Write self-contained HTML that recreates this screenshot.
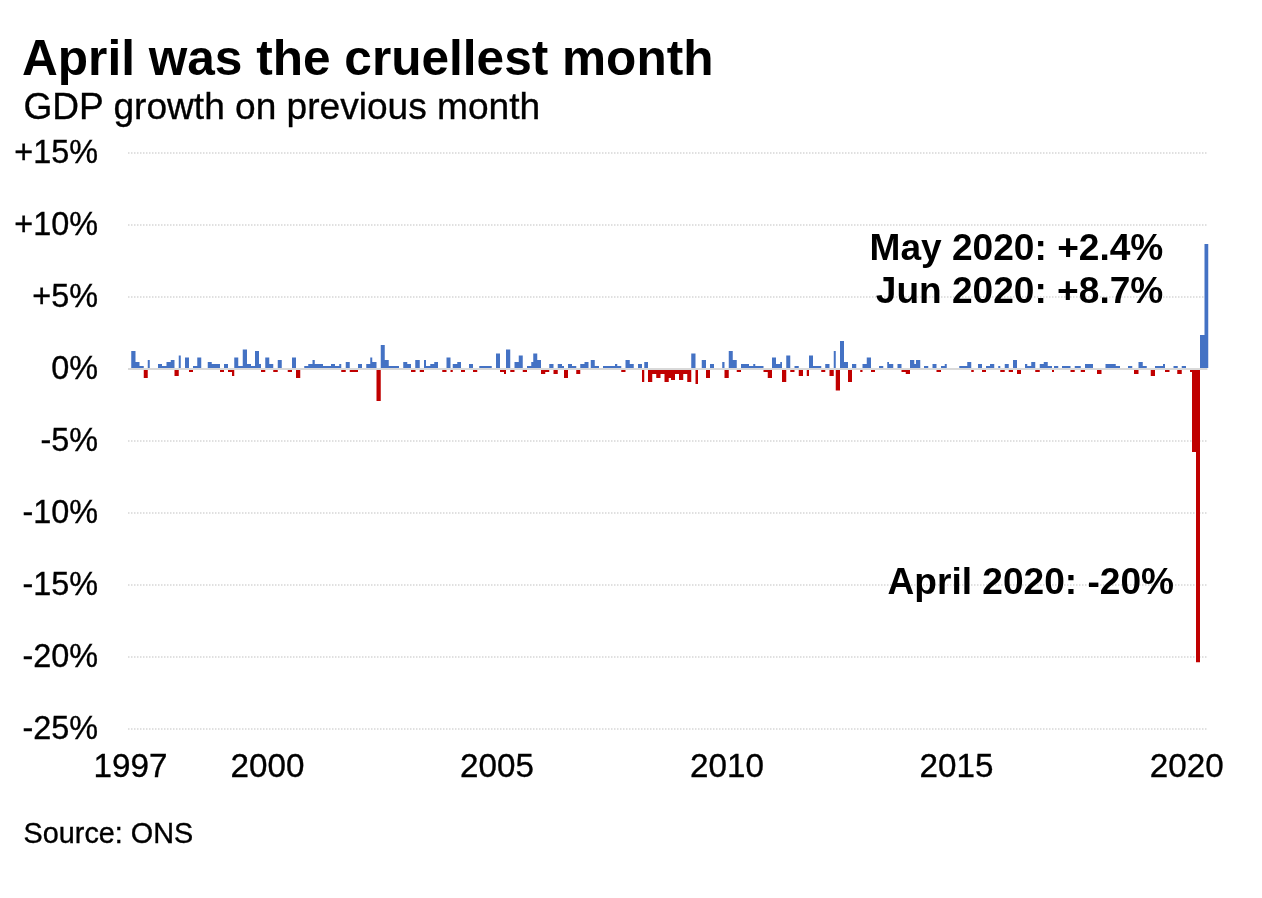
<!DOCTYPE html>
<html lang="en"><head><meta charset="utf-8"><title>April was the cruellest month</title>
<style>
html,body{margin:0;padding:0;background:#fff}
body{width:1262px;height:898px;overflow:hidden;font-family:"Liberation Sans",Arial,Helvetica,sans-serif}
svg{display:block;filter:blur(.45px)}
text{font-family:"Liberation Sans",Arial,Helvetica,sans-serif;fill:#000}
.s,.y,.x,.src{stroke:#000;stroke-width:.35px}
.t{font-weight:bold;font-size:49.58px}
.s{font-size:37.1px}
.y{font-size:32.4px;text-anchor:end}
.x{font-size:33.2px;text-anchor:middle}
.a{font-weight:bold;font-size:37.1px;text-anchor:end}
.src{font-size:28.8px}
.g{stroke:#d6d6d6;stroke-width:1.6;stroke-dasharray:1.5 1.5;fill:none}
.b{fill:#4472C4}.r{fill:#C00000}
</style></head><body>
<svg width="1262" height="898" viewBox="0 0 1262 898">
<rect width="1262" height="898" fill="#fff"/>

<g class="g">
<line x1="128" y1="153" x2="1208" y2="153"/>
<line x1="128" y1="225" x2="1208" y2="225"/>
<line x1="128" y1="297" x2="1208" y2="297"/>
<line x1="128" y1="441" x2="1208" y2="441"/>
<line x1="128" y1="513" x2="1208" y2="513"/>
<line x1="128" y1="585" x2="1208" y2="585"/>
<line x1="128" y1="657" x2="1208" y2="657"/>
<line x1="128" y1="729" x2="1208" y2="729"/>
</g>
<rect x="128" y="368" width="1079.4" height="2" fill="#d9d9d9"/>
<path class="b" d="M131.25 368V351H135.5V362H139.5V366H143.75V368ZM147.75 368V360H149.75V368ZM158 368V364H162V366H166.5V362H170.75V360H174.5V368ZM178.75 368V355.5H180.75V368ZM185 368V357.5H189V368ZM193 368V366H197.25V357.5H201.25V368ZM207.75 368V362H211.75V364H220V368ZM224 368V364H228V368ZM234.25 368V357.5H238.25V366H242.75V349.5H247V364H251V366H255V351H259V364H261V368ZM265.25 368V357.5H269.25V364H273.25V368ZM277.75 368V360H281.75V368ZM292 368V357.5H296V368ZM304.25 368V366H308.25V364H312.5V360H314.75V364H323V366H331V364H335V366H339.25V364H341.25V368ZM345.75 368V362H349.75V368ZM358 368V364H362V368ZM366.25 368V364H370.25V357.5H372.25V362H376.5V368ZM380.75 368V345H384.75V360H388.75V366H399V368ZM403.25 368V362H407.25V364H411V368ZM415.25 368V360H419.75V368ZM424 368V360H426V366H430.25V364H434.25V362H438V368ZM446.5 368V357.5H450.5V368ZM452.75 368V364H457.25V362H461V368ZM469 368V364H473V368ZM479.25 368V366H491.75V368ZM496 368V353.5H500V368ZM506 368V349.5H510.25V368ZM514.5 368V362H518.75V355.5H522.75V368ZM527 368V366H531.25V362H533.25V353.5H537.25V360H541V368ZM549.25 368V364H553.5V368ZM557.75 368V364H562V366H564V368ZM568 368V364H572V366H576.25V368ZM580.25 368V364H584.5V362H588.5V368ZM590.75 368V360H594.75V366H599V368ZM603 368V366H615V364H617.25V366H621.25V368ZM625.5 368V360H629.75V364H633.75V368ZM638 368V364H642V368ZM644.25 368V362H648V368ZM691.25 368V353.5H695.5V368ZM701.75 368V360H706V368ZM710 368V364H714V368ZM722.25 368V362H724.5V368ZM728.75 368V351H732.75V360H736.75V368ZM741 368V364H749V366H753.25V364H755.25V366H763.5V368ZM772 368V357.5H776V364H780.25V362H782V368ZM786.25 368V355.5H790.25V368ZM794.5 368V366H798.75V368ZM809 368V355.5H813V366H821.25V368ZM825.25 368V364H829.5V368ZM833.75 368V351H835.75V368ZM840 368V341H844V362H848V368ZM852 368V364H856.25V368ZM862.5 368V364H866.75V357.5H871V368ZM879 368V366H883.25V368ZM887.25 368V362H889V364H893.25V368ZM897.5 368V364H901.5V368ZM910 368V360H914.25V364H916V360H920.25V368ZM924 368V366H928.25V368ZM932.5 368V364H936.5V368ZM941 368V366H944.75V364H946.75V368ZM959.25 368V366H967.25V362H971.25V368ZM978 368V364H982V368ZM986 368V366H990V364H994.25V368ZM998.25 368V366H1000.25V368ZM1004.75 368V364H1008.75V368ZM1013 368V360H1017V368ZM1025 368V364H1027.25V366H1031.25V362H1035.25V368ZM1039.75 368V364H1043.75V362H1047.75V366H1052V368ZM1054 368V366H1058.25V368ZM1062 368V366H1070.5V368ZM1074.75 368V366H1080.75V368ZM1085 368V364H1093V368ZM1105.5 368V364H1115.75V366H1120V368ZM1128 368V366H1132.25V368ZM1138.5 368V362H1142.75V366H1146.75V368ZM1155 368V366H1163V364H1165V368ZM1173.5 368V366H1177.75V368ZM1181.75 368V366H1186V368ZM1200 368V335H1204.5V244H1208.25V368Z"/>
<path class="r" d="M143.75 370V378H147.75V370ZM174.5 370V376H178.75V370ZM189 370V372H193V370ZM220 370V372H224V370ZM228 370V372H232V376H234.25V370ZM261 370V372H265.25V370ZM273.25 370V372H277.75V370ZM287.75 370V372H292V370ZM296 370V378H300.25V370ZM341.25 370V372H345.75V370ZM349.75 370V372H358V370ZM376.5 370V401H380.75V370ZM411 370V372H415.5V370ZM419.75 370V372H424V370ZM442.25 370V372H446.5V370ZM450.5 370V372H452.75V370ZM461 370V372H465V370ZM473 370V372H477.25V370ZM500 370V372H504V374H506V370ZM510.25 370V372H514.5V370ZM522.75 370V372H527V370ZM541 370V374H545.25V372H549.25V370ZM553.5 370V374H557.75V370ZM564 370V378H568V370ZM576.25 370V374H580.25V370ZM621.25 370V372H625.5V370ZM642 370V382H644.25V370ZM648 370V382H652.25V374H656.25V378H660.5V374H664.5V382H668.75V378H671V380H675V374H679V380H683.25V374H687.25V382H691.25V370ZM695.5 370V384H698V370ZM706 370V378H710V370ZM724.5 370V378H728.75V370ZM736.75 370V372H741V370ZM763.5 370V372H767.75V378H772V370ZM782 370V382H786.25V370ZM790.25 370V372H794.5V370ZM798.75 370V376H803V370ZM806.75 370V376H809V370ZM821.25 370V372H825.25V370ZM829.5 370V376H833.75V370ZM835.75 370V390.5H840V370ZM848 370V382H852V370ZM860.25 370V372H862.5V370ZM871 370V372H875V370ZM901.5 370V372H905.75V374H910V370ZM936.5 370V372H941V370ZM971.25 370V372H973.75V370ZM982 370V372H986V370ZM1000.25 370V372H1004.75V370ZM1008.75 370V372H1013V370ZM1017 370V374H1021V370ZM1035.25 370V372H1039.75V370ZM1052 370V372H1054V370ZM1070.5 370V372H1074.75V370ZM1080.75 370V372H1085V370ZM1097 370V374H1101.5V370ZM1134 370V374H1138.5V370ZM1150.75 370V376H1155V370ZM1165 370V372H1169.5V370ZM1177.25 370V374H1181.75V370ZM1190 370V372H1192V452H1196V662.2H1200V370Z"/>
<text class="t" x="22" y="75">April was the cruellest month</text>
<text class="s" x="23.5" y="119">GDP growth on previous month</text>
<text class="y" x="98" y="162.7">+15%</text>
<text class="y" x="98" y="234.7">+10%</text>
<text class="y" x="98" y="306.7">+5%</text>
<text class="y" x="98" y="378.7">0%</text>
<text class="y" x="98" y="450.7">-5%</text>
<text class="y" x="98" y="522.7">-10%</text>
<text class="y" x="98" y="594.7">-15%</text>
<text class="y" x="98" y="666.7">-20%</text>
<text class="y" x="98" y="738.7">-25%</text>
<text class="x" x="130.5" y="777.3">1997</text>
<text class="x" x="267.5" y="777.3">2000</text>
<text class="x" x="497" y="777.3">2005</text>
<text class="x" x="727" y="777.3">2010</text>
<text class="x" x="956.5" y="777.3">2015</text>
<text class="x" x="1186.7" y="777.3">2020</text>
<text class="a" x="1163.3" y="259.6">May 2020: +2.4%</text>
<text class="a" x="1163.3" y="303">Jun 2020: +8.7%</text>
<text class="a" x="1174" y="594">April 2020: -20%</text>
<text class="src" x="23.6" y="843">Source: ONS</text>
</svg></body></html>
